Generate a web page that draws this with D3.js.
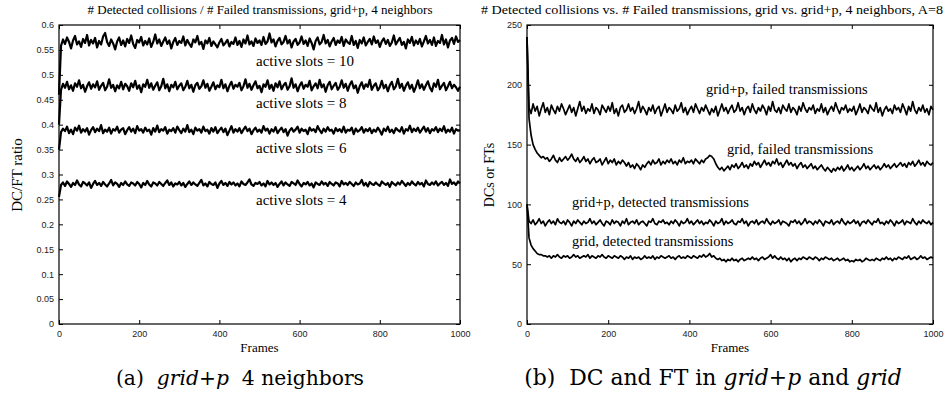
<!DOCTYPE html>
<html>
<head>
<meta charset="utf-8">
<title>Detected collisions vs failed transmissions</title>
<script src="https://d3js.org/d3.v7.min.js"></script>
<style>
body { margin: 0; background: #fff; }
.serif { font-family: "Liberation Serif", "Times New Roman", serif; fill: #000; }
.caption { font-family: "DejaVu Serif", serif; fill: #000; white-space: pre; }
.series { fill: none; stroke: #000; stroke-linejoin: round; }
</style>
</head>
<body>
<script>
// frame numbers (one sample every 5 frames)
var frames = d3.range(0, 1001, 5);

// (a) DC/FT ratio, grid+p, 4 neighbors
var slots10 = [0.46,0.558,0.571,0.562,0.575,0.566,0.553,0.569,0.578,0.561,
0.567,0.556,0.572,0.564,0.58,0.559,0.57,0.563,0.574,0.555,
0.568,0.561,0.577,0.584,0.566,0.558,0.571,0.563,0.551,0.567,
0.575,0.56,0.569,0.557,0.572,0.564,0.579,0.562,0.554,0.57,
0.565,0.576,0.559,0.568,0.561,0.573,0.556,0.566,0.581,0.563,
0.571,0.558,0.567,0.575,0.562,0.569,0.553,0.566,0.574,0.56,
0.568,0.564,0.577,0.559,0.57,0.562,0.556,0.571,0.565,0.578,
0.561,0.566,0.552,0.569,0.563,0.574,0.558,0.567,0.561,0.555,
0.565,0.572,0.559,0.564,0.57,0.557,0.566,0.562,0.575,0.56,
0.568,0.556,0.571,0.563,0.579,0.561,0.567,0.558,0.573,0.564,
0.569,0.56,0.576,0.562,0.567,0.583,0.565,0.571,0.557,0.568,
0.574,0.561,0.566,0.578,0.563,0.57,0.555,0.567,0.572,0.56,
0.565,0.577,0.562,0.569,0.558,0.573,0.564,0.551,0.568,0.575,
0.561,0.566,0.58,0.563,0.57,0.557,0.567,0.574,0.56,0.569,
0.564,0.576,0.558,0.571,0.565,0.562,0.578,0.56,0.568,0.554,
0.57,0.563,0.575,0.559,0.566,0.572,0.561,0.577,0.564,0.569,
0.556,0.567,0.573,0.562,0.57,0.558,0.565,0.579,0.561,0.568,
0.574,0.56,0.566,0.553,0.571,0.564,0.576,0.559,0.569,0.562,
0.572,0.557,0.567,0.578,0.563,0.57,0.56,0.575,0.558,0.568,
0.564,0.58,0.561,0.571,0.555,0.569,0.574,0.562,0.577,0.566,
0.57];
var slots8 = [0.40,0.47,0.482,0.474,0.486,0.471,0.479,0.468,0.483,0.476,
0.489,0.473,0.48,0.466,0.477,0.485,0.472,0.481,0.475,0.487,
0.47,0.478,0.484,0.469,0.476,0.491,0.474,0.48,0.467,0.479,
0.473,0.486,0.471,0.482,0.477,0.468,0.483,0.475,0.488,0.472,
0.479,0.465,0.481,0.476,0.49,0.474,0.483,0.47,0.478,0.485,
0.469,0.477,0.492,0.473,0.481,0.467,0.48,0.475,0.486,0.471,
0.478,0.483,0.469,0.476,0.488,0.473,0.48,0.466,0.479,0.484,
0.472,0.477,0.489,0.474,0.482,0.468,0.476,0.485,0.471,0.479,
0.475,0.49,0.473,0.481,0.467,0.478,0.486,0.472,0.48,0.476,
0.484,0.469,0.477,0.491,0.474,0.482,0.47,0.479,0.487,0.473,
0.478,0.465,0.481,0.476,0.489,0.472,0.48,0.468,0.483,0.475,
0.487,0.471,0.479,0.484,0.47,0.477,0.493,0.474,0.481,0.467,
0.478,0.485,0.472,0.48,0.476,0.488,0.469,0.477,0.483,0.473,
0.49,0.475,0.481,0.466,0.479,0.486,0.471,0.478,0.484,0.47,
0.476,0.489,0.474,0.482,0.468,0.48,0.487,0.473,0.479,0.464,
0.477,0.485,0.472,0.481,0.476,0.49,0.47,0.478,0.483,0.469,
0.475,0.488,0.473,0.48,0.467,0.479,0.486,0.471,0.477,0.492,
0.474,0.482,0.468,0.478,0.485,0.472,0.48,0.466,0.476,0.489,
0.473,0.481,0.47,0.479,0.487,0.474,0.467,0.483,0.476,0.49,
0.471,0.478,0.484,0.469,0.477,0.486,0.473,0.48,0.475,0.468,
0.476];
var slots6 = [0.35,0.385,0.392,0.387,0.396,0.383,0.39,0.381,0.394,0.388,
0.398,0.384,0.391,0.386,0.393,0.38,0.389,0.395,0.385,0.392,
0.387,0.399,0.383,0.39,0.386,0.394,0.382,0.391,0.388,0.396,
0.384,0.39,0.393,0.381,0.389,0.395,0.386,0.392,0.383,0.397,
0.388,0.391,0.384,0.394,0.387,0.39,0.38,0.393,0.386,0.398,
0.385,0.391,0.388,0.395,0.382,0.39,0.387,0.393,0.384,0.396,
0.389,0.383,0.392,0.386,0.399,0.385,0.39,0.381,0.394,0.388,
0.391,0.384,0.396,0.387,0.39,0.382,0.393,0.386,0.395,0.383,
0.389,0.394,0.385,0.392,0.379,0.388,0.397,0.384,0.391,0.386,
0.393,0.383,0.39,0.396,0.387,0.392,0.381,0.389,0.394,0.386,
0.39,0.384,0.397,0.388,0.392,0.382,0.391,0.386,0.395,0.383,
0.389,0.394,0.385,0.391,0.378,0.388,0.393,0.386,0.39,0.396,
0.384,0.392,0.387,0.39,0.381,0.394,0.388,0.391,0.385,0.397,
0.389,0.383,0.392,0.386,0.395,0.388,0.39,0.382,0.393,0.387,
0.391,0.385,0.396,0.384,0.39,0.388,0.394,0.381,0.392,0.386,
0.389,0.395,0.384,0.391,0.387,0.393,0.383,0.39,0.386,0.394,
0.388,0.38,0.392,0.387,0.396,0.385,0.39,0.383,0.393,0.389,
0.386,0.395,0.382,0.391,0.388,0.398,0.385,0.392,0.387,0.394,
0.384,0.39,0.396,0.386,0.393,0.383,0.391,0.388,0.395,0.385,
0.392,0.387,0.397,0.384,0.39,0.386,0.394,0.382,0.391,0.388,
0.389];
var slots4 = [0.255,0.279,0.284,0.277,0.286,0.281,0.275,0.283,0.279,0.288,
0.28,0.276,0.285,0.282,0.278,0.284,0.273,0.281,0.287,0.279,
0.283,0.277,0.285,0.28,0.276,0.282,0.289,0.278,0.284,0.281,
0.275,0.283,0.279,0.286,0.28,0.277,0.284,0.282,0.278,0.285,
0.281,0.274,0.283,0.279,0.287,0.28,0.276,0.284,0.282,0.278,
0.285,0.281,0.277,0.283,0.288,0.279,0.284,0.276,0.282,0.28,
0.285,0.278,0.283,0.275,0.281,0.286,0.279,0.284,0.28,0.277,
0.283,0.289,0.278,0.282,0.276,0.285,0.281,0.279,0.284,0.273,
0.282,0.287,0.279,0.283,0.277,0.285,0.28,0.284,0.278,0.282,
0.276,0.286,0.281,0.279,0.284,0.29,0.28,0.277,0.283,0.281,
0.285,0.278,0.282,0.276,0.287,0.28,0.284,0.279,0.283,0.275,
0.281,0.286,0.278,0.284,0.28,0.277,0.285,0.282,0.279,0.288,
0.281,0.276,0.283,0.28,0.285,0.278,0.282,0.274,0.284,0.281,
0.279,0.286,0.28,0.283,0.277,0.285,0.281,0.278,0.284,0.282,
0.276,0.287,0.28,0.283,0.279,0.285,0.281,0.277,0.284,0.28,
0.282,0.289,0.278,0.283,0.276,0.285,0.281,0.279,0.284,0.28,
0.277,0.286,0.282,0.279,0.283,0.275,0.285,0.281,0.278,0.284,
0.28,0.287,0.282,0.277,0.283,0.279,0.286,0.281,0.278,0.285,
0.28,0.283,0.276,0.288,0.281,0.279,0.284,0.28,0.286,0.278,
0.282,0.285,0.279,0.283,0.277,0.29,0.281,0.284,0.279,0.286,
0.282];

// (b) DCs or FTs, grid vs grid+p, A=8
var gridpFailed = [240,181,176,184,178,182,174,180,185,177,
181,175,183,179,176,182,178,184,180,175,
179,183,177,181,174,180,186,178,182,176,
180,178,184,176,181,179,175,183,180,177,
182,178,185,176,180,174,181,183,177,179,
184,178,181,176,180,186,177,182,179,175,
181,178,183,176,180,182,174,179,184,177,
181,179,176,183,178,180,185,177,181,175,
179,182,177,184,180,176,181,178,183,179,
175,180,177,182,174,179,184,178,181,176,
180,183,177,179,185,178,181,175,180,182,
177,184,179,176,181,178,183,180,175,182,
178,186,179,177,181,176,183,180,178,184,
177,181,179,175,182,178,185,180,177,181,
179,183,176,180,178,184,177,181,175,179,
182,178,185,180,176,181,179,183,177,180,
178,182,175,179,184,177,181,179,176,183,
180,178,185,177,181,174,179,182,178,180,
176,183,179,181,177,184,180,175,182,178,
186,179,176,181,178,183,177,180,175,182,
179];
var gridFailed = [240,172,158,150,146,143,141,139,140,138,
139,136,138,141,137,135,139,136,138,140,
137,139,142,138,136,139,135,137,140,136,
138,134,137,139,135,136,138,133,136,139,
134,137,135,138,133,136,134,137,135,132,
135,131,133,130,134,132,129,133,131,134,
136,133,137,134,135,138,133,136,134,137,
135,138,134,136,133,137,135,139,134,136,
135,137,134,138,136,134,137,135,138,139,
141,140,138,134,131,129,131,128,130,132,
129,133,131,134,130,132,135,131,133,130,
134,132,136,133,135,131,134,137,133,135,
132,136,134,138,133,135,131,134,137,133,
135,132,134,130,133,135,131,133,130,132,
134,130,132,129,131,133,130,128,131,129,
127,130,128,131,129,132,128,130,133,129,
131,128,130,132,129,131,134,130,132,129,
131,133,130,132,129,131,134,131,133,130,
132,134,131,133,135,132,134,131,135,133,
136,132,134,137,133,135,132,136,134,133,
135];
var gridpDetected = [100,86,84,87,83,85,88,84,86,82,
85,87,84,86,83,88,85,84,86,83,
87,85,82,86,84,87,85,83,86,84,
85,88,84,86,83,85,87,84,82,86,
85,83,87,84,86,85,82,86,84,88,
83,85,86,84,87,83,85,86,84,82,
86,85,88,84,83,86,85,87,84,85,
83,86,84,87,85,82,86,84,85,88,
84,86,83,85,87,84,86,83,85,84,
87,85,82,86,84,85,88,83,86,84,
85,87,84,83,86,85,88,84,86,82,
85,86,84,87,83,85,86,84,88,85,
83,86,84,85,87,83,86,85,84,82,
86,85,87,84,86,83,85,88,84,86,
85,83,86,84,87,85,82,86,85,84,
87,83,85,86,84,88,85,83,86,84,
85,87,84,86,82,85,86,84,87,85,
83,86,85,88,84,85,83,86,84,87,
85,82,86,84,85,87,83,86,85,84,
88,85,83,86,84,87,85,84,86,83,
85];
var gridDetected = [100,72,66,63,61,59,58,58,57,57,
56,57,55,57,56,58,56,55,57,56,
57,55,56,58,56,57,55,56,57,56,
58,55,57,56,55,57,56,58,56,55,
57,56,55,57,56,55,57,56,54,56,
55,57,54,56,55,56,54,55,57,55,
56,55,57,54,56,55,57,56,55,56,
57,55,56,54,56,57,55,56,55,57,
56,55,57,56,55,57,56,58,56,57,
59,56,57,55,54,55,53,54,52,54,
53,55,53,54,52,54,55,53,54,55,
54,56,54,55,53,55,56,54,55,56,
58,55,57,55,54,56,54,55,53,55,
52,54,55,53,55,54,56,55,54,56,
55,54,56,55,53,55,54,56,55,54,
55,53,54,55,53,54,55,53,54,52,
53,52,54,53,54,52,53,55,54,53,
54,53,55,54,53,55,54,56,54,55,
53,55,54,56,55,54,56,55,57,54,
55,56,54,55,57,55,56,54,55,56,
55];

var xTicks = [0, 200, 400, 600, 800, 1000];
var yTicksA = [0, 0.05, 0.1, 0.15, 0.2, 0.25, 0.3, 0.35, 0.4, 0.45, 0.5, 0.55, 0.6];
var yTicksB = [0, 50, 100, 150, 200, 250];

var svg = d3.select("body").append("svg")
    .attr("width", 948)
    .attr("height", 397);

function drawPanel(p) {
    var x = d3.scaleLinear().domain([0, 1000]).range([p.left, p.right]);
    var y = d3.scaleLinear().domain(p.yDomain).range([324, 25]);
    var g = svg.append("g");

    // ticks on all four sides, pointing inward (gnuplot style)
    g.append("g")
        .attr("transform", "translate(0,324)")
        .call(d3.axisBottom(x).tickValues(xTicks).tickSize(-4).tickPadding(7).tickFormat(d3.format("d")))
        .attr("font-family", "'Liberation Sans', Arial, sans-serif")
        .attr("font-size", 9);
    g.append("g")
        .attr("transform", "translate(0,25)")
        .call(d3.axisTop(x).tickValues(xTicks).tickSize(-4).tickFormat(""));
    g.append("g")
        .attr("transform", "translate(" + p.left + ",0)")
        .call(d3.axisLeft(y).tickValues(p.yTicks).tickSize(-4).tickPadding(5).tickFormat(p.fmt))
        .attr("font-family", "'Liberation Sans', Arial, sans-serif")
        .attr("font-size", 9);
    g.append("g")
        .attr("transform", "translate(" + p.right + ",0)")
        .call(d3.axisRight(y).tickValues(p.yTicks).tickSize(-4).tickFormat(""));
    g.selectAll(".domain").remove();
    g.selectAll(".tick text").attr("fill", "#222");

    var line = d3.line()
        .x(function(d, i) { return x(frames[i]); })
        .y(function(d) { return y(d); });

    p.series.forEach(function(s) {
        g.append("path")
            .attr("class", "series")
            .attr("stroke-width", p.lineWidth)
            .attr("d", line(s));
    });

    g.append("rect")
        .attr("x", p.left)
        .attr("y", 25)
        .attr("width", p.right - p.left)
        .attr("height", 299)
        .attr("fill", "none")
        .attr("stroke", "#000")
        .attr("stroke-width", 1.2);

    p.labels.forEach(function(l) {
        g.append("text")
            .attr("class", "serif")
            .attr("x", l[1])
            .attr("y", l[2])
            .attr("font-size", p.labelSize)
            .text(l[0]);
    });

    g.append("text")
        .attr("class", "serif")
        .attr("x", p.titleX)
        .attr("y", 14)
        .attr("font-size", 13.5)
        .attr("text-anchor", "middle")
        .attr("textLength", p.titleWidth)
        .attr("lengthAdjust", "spacingAndGlyphs")
        .text(p.title);

    g.append("text")
        .attr("class", "serif")
        .attr("x", (p.left + p.right) / 2)
        .attr("y", 352)
        .attr("font-size", 13)
        .attr("text-anchor", "middle")
        .text("Frames");

    g.append("text")
        .attr("class", "serif")
        .attr("transform", "translate(" + p.yLabelX + ",175) rotate(-90)")
        .attr("font-size", p.yLabelSize)
        .attr("text-anchor", "middle")
        .text(p.yLabel);

    var cap = g.append("text")
        .attr("class", "caption")
        .attr("x", p.capX)
        .attr("y", 385)
        .attr("font-size", p.capSize)
        .attr("text-anchor", "middle");
    p.caption.forEach(function(c) {
        cap.append("tspan")
            .attr("font-style", c[1] ? "italic" : "normal")
            .text(c[0]);
    });
}

drawPanel({
    left: 59, right: 460,
    yDomain: [0, 0.6], yTicks: yTicksA,
    fmt: function(d) { return String(+d.toFixed(2)); },
    series: [slots10, slots8, slots6, slots4],
    lineWidth: 2.2,
    labels: [["active slots = 10", 256, 66], ["active slots = 8", 256, 108],
             ["active slots = 6", 256, 153], ["active slots = 4", 256, 205]],
    labelSize: 15,
    title: "# Detected collisions / # Failed transmissions, grid+p, 4 neighbors",
    titleX: 260, titleWidth: 345,
    yLabel: "DC/FT ratio", yLabelX: 22, yLabelSize: 15,
    caption: [["(a)  ", false], ["grid+p", true], ["  4 neighbors", false]],
    capX: 240, capSize: 20.3
});

drawPanel({
    left: 527, right: 933,
    yDomain: [0, 250], yTicks: yTicksB,
    fmt: d3.format("d"),
    series: [gridpFailed, gridFailed, gridpDetected, gridDetected],
    lineWidth: 1.7,
    labels: [["grid+p, failed transmissions", 706, 94], ["grid, failed transmissions", 727, 154],
             ["grid+p, detected transmissions", 572, 207], ["grid, detected transmissions", 572, 246]],
    labelSize: 14.5,
    title: "# Detected collisions vs. # Failed transmissions, grid vs. grid+p, 4 neighbors, A=8",
    titleX: 712, titleWidth: 462,
    yLabel: "DCs or FTs", yLabelX: 494, yLabelSize: 14,
    caption: [["(b)  DC and FT in ", false], ["grid+p", true], [" and ", false], ["grid", true]],
    capX: 713, capSize: 21.9
});
</script>
</body>
</html>
